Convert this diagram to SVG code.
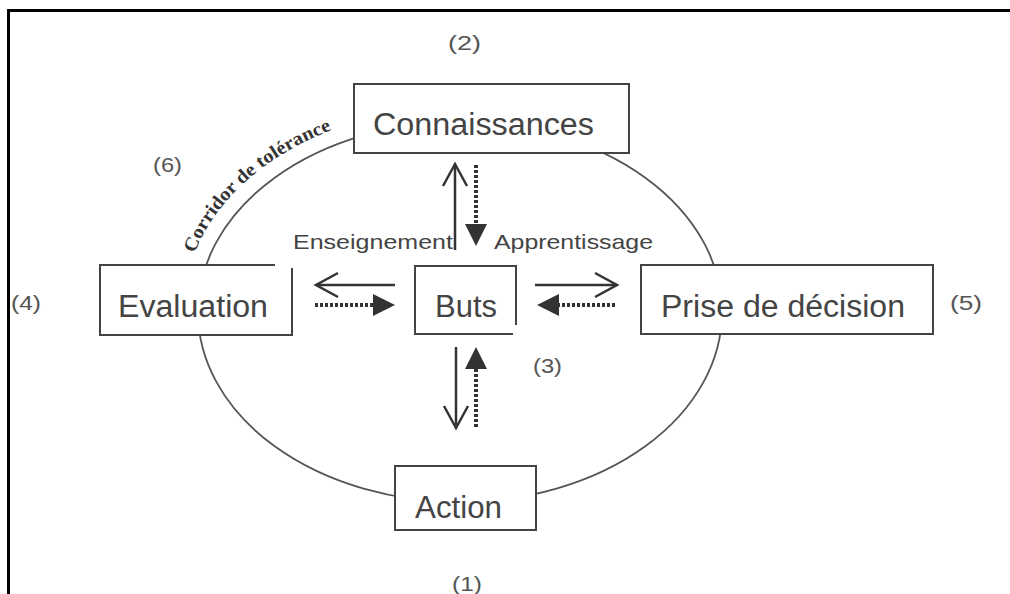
<svg xmlns="http://www.w3.org/2000/svg" width="1010" height="594" viewBox="0 0 1010 594">
<style>
.box{fill:#fff;stroke:#444;stroke-width:2}
.lbl{font-family:"Liberation Sans",Arial,sans-serif;font-size:31px;fill:#444}
.sm{font-family:"Liberation Sans",Arial,sans-serif;font-size:21px;fill:#444}
.num{font-family:"Liberation Sans",Arial,sans-serif;font-size:20px;fill:#555}
.solid{fill:none;stroke:#333;stroke-width:2.5}
.dot{fill:none;stroke:#333;stroke-width:4;stroke-dasharray:3 2}
</style>
<defs>
<marker id="openV" markerUnits="userSpaceOnUse" markerWidth="30" markerHeight="30" refX="0" refY="0" orient="auto" overflow="visible">
<path d="M-22,-12 L0,0 L-22,12" fill="none" stroke="#333" stroke-width="2.5"/>
</marker>
<marker id="fillT" markerUnits="userSpaceOnUse" markerWidth="30" markerHeight="30" refX="0" refY="0" orient="auto" overflow="visible">
<path d="M0,-11 L22,0 L0,11 Z" fill="#333"/>
</marker>
<path id="corr" d="M 187.2 276.4 A 275 203 0 0 1 411.9 110.1" fill="none"/>
</defs>
<rect width="1010" height="594" fill="#fff"/>
<path d="M 8.5 594 V 10.5 H 1010" fill="none" stroke="#000" stroke-width="3"/>
<g id="cycle">
<ellipse cx="460" cy="312" rx="262" ry="190" fill="none" stroke="#555" stroke-width="1.8"/>
<text font-family="'Liberation Serif','Times New Roman',serif" font-weight="bold" font-size="19" fill="#333"><textPath href="#corr" startOffset="24" textLength="190" lengthAdjust="spacingAndGlyphs">Corridor de tolérance</textPath></text>
</g>
<g id="connectors">
<line class="solid" x1="455" y1="250" x2="455" y2="164" marker-end="url(#openV)"/>
<line class="dot" x1="476" y1="165" x2="476" y2="224" marker-end="url(#fillT)"/>
<line class="solid" x1="395" y1="285" x2="316" y2="285" marker-end="url(#openV)"/>
<line class="dot" x1="315" y1="305" x2="373" y2="305" marker-end="url(#fillT)"/>
<line class="solid" x1="535" y1="285" x2="617" y2="285" marker-end="url(#openV)"/>
<line class="dot" x1="615" y1="305" x2="559" y2="305" marker-end="url(#fillT)"/>
<line class="solid" x1="456" y1="347" x2="456" y2="428" marker-end="url(#openV)"/>
<line class="dot" x1="476" y1="427" x2="476" y2="369" marker-end="url(#fillT)"/>
</g>
<g id="connaissances">
<rect class="box" x="354" y="84" width="275" height="69"/>
<text class="lbl" x="373" y="135" textLength="221" lengthAdjust="spacingAndGlyphs">Connaissances</text>
</g>
<g id="evaluation">
<rect x="100" y="265" width="192" height="70" fill="#fff"/>
<path d="M 275 265 H 100 V 335 H 292 V 268" fill="none" stroke="#444" stroke-width="2"/>
<text class="lbl" x="118" y="317" textLength="150" lengthAdjust="spacingAndGlyphs">Evaluation</text>
</g>
<g id="buts">
<rect x="415" y="266" width="101" height="68" fill="#fff"/>
<path d="M 516 325 V 266 H 415 V 334 H 513" fill="none" stroke="#444" stroke-width="2"/>
<text class="lbl" x="435" y="317" textLength="62" lengthAdjust="spacingAndGlyphs">Buts</text>
</g>
<g id="prise">
<rect class="box" x="641" y="265" width="292" height="69"/>
<text class="lbl" x="661" y="317" textLength="244" lengthAdjust="spacingAndGlyphs">Prise de décision</text>
</g>
<g id="action">
<rect class="box" x="395" y="466" width="141" height="64"/>
<text class="lbl" x="415" y="518" textLength="87" lengthAdjust="spacingAndGlyphs">Action</text>
</g>
<g id="labels">
<text class="sm" x="293" y="249" textLength="160" lengthAdjust="spacingAndGlyphs">Enseignement</text>
<text class="sm" x="494" y="249" textLength="159" lengthAdjust="spacingAndGlyphs">Apprentissage</text>
<text class="num" x="448" y="50" textLength="33" lengthAdjust="spacingAndGlyphs">(2)</text>
<text class="num" x="153" y="172" textLength="29" lengthAdjust="spacingAndGlyphs">(6)</text>
<text class="num" x="11" y="310" textLength="30" lengthAdjust="spacingAndGlyphs">(4)</text>
<text class="num" x="950" y="310" textLength="32" lengthAdjust="spacingAndGlyphs">(5)</text>
<text class="num" x="533" y="373" textLength="29" lengthAdjust="spacingAndGlyphs">(3)</text>
<text class="num" x="452" y="591" textLength="30" lengthAdjust="spacingAndGlyphs">(1)</text>
</g>
</svg>
